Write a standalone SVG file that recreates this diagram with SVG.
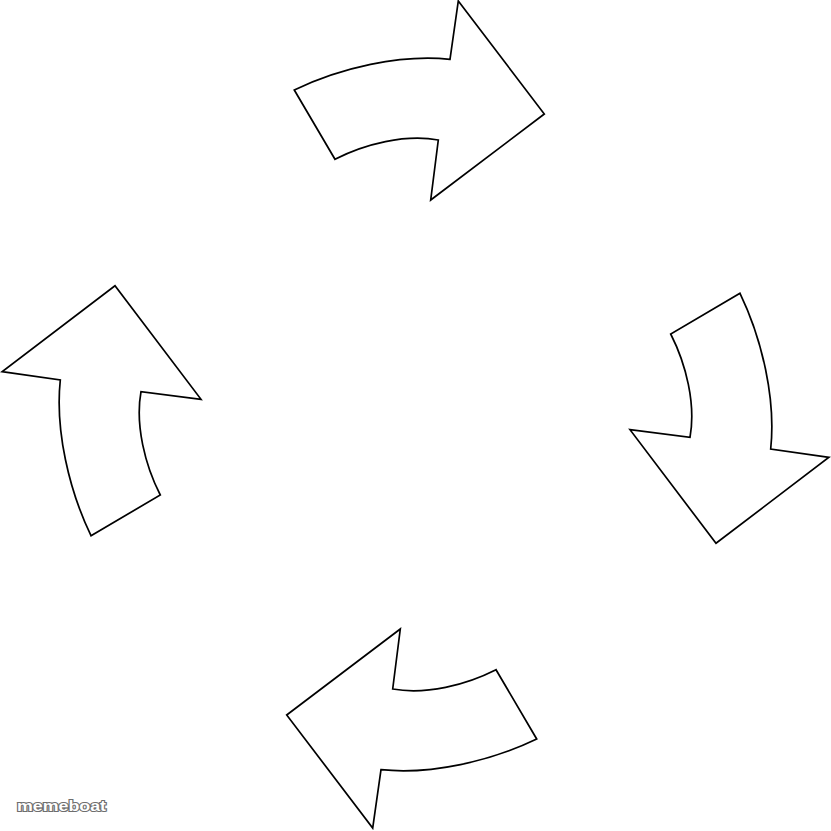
<svg xmlns="http://www.w3.org/2000/svg" xmlns:xlink="http://www.w3.org/1999/xlink" width="831" height="831" viewBox="0 0 831 831">
<style>
.arrow{fill:#fff;stroke:#000;stroke-width:1.7;stroke-linejoin:miter}
.wm{font-family:"Liberation Sans",Arial,sans-serif;font-weight:bold;font-size:15.5px;fill:#fff;stroke:#6e6e6e;stroke-width:2.2;paint-order:stroke}
</style>
<defs>
<path id="arrowShape" d="M294.3,90 C340,68 400,54 450,59.3 L458.3,1 L544.3,114 L430.7,200 L438.3,140 C405,134 365,144 335,159.3 Z"/>
</defs>
<rect width="831" height="831" fill="#fff"/>
<g id="connectors">
<g id="arrow-top"><use xlink:href="#arrowShape" href="#arrowShape" class="arrow"/></g>
<g id="arrow-right"><use xlink:href="#arrowShape" href="#arrowShape" class="arrow" transform="rotate(90 415.5 414.5)"/></g>
<g id="arrow-bottom"><use xlink:href="#arrowShape" href="#arrowShape" class="arrow" transform="rotate(180 415.5 414.5)"/></g>
<g id="arrow-left"><use xlink:href="#arrowShape" href="#arrowShape" class="arrow" transform="rotate(270 415.5 414.5)"/></g>
</g>
<text class="wm" x="17" y="811" textLength="89" lengthAdjust="spacingAndGlyphs">memeboat</text>
</svg>
